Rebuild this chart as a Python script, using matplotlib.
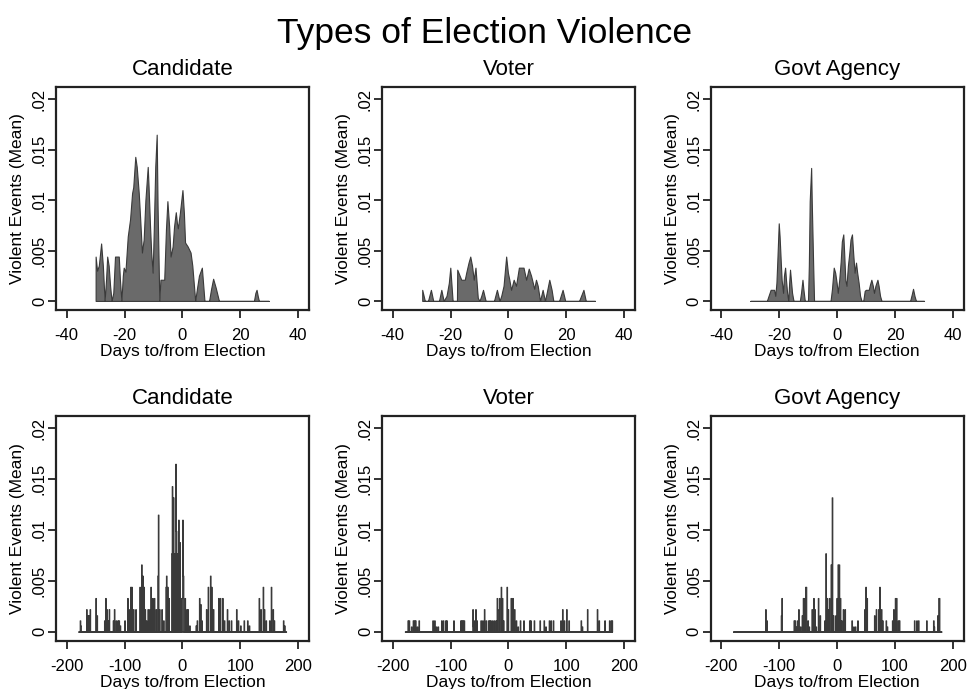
import numpy as np
import matplotlib
matplotlib.use('Agg')
import matplotlib.pyplot as plt
from matplotlib.ticker import FuncFormatter

plt.rcParams['font.family'] = ['Liberation Sans', 'DejaVu Sans']
plt.rcParams['axes.unicode_minus'] = False

TITLES = ['Candidate', 'Voter', 'Govt Agency']

# top row: +/-30 days, outline vertices (day, mean)
cand_top_days = [-30.0, -30.0, -29.5, -28.9, -28.1, -27.5, -26.9, -26.4, -26.0, -25.5, -25.0, -24.5,
                 -23.9, -23.3, -22.0, -21.6, -21.1, -20.6, -20.3, -19.7, -18.9, -18.1, -17.4, -17.0,
                 -16.3, -15.8, -15.1, -14.6, -14.0, -13.4, -12.8, -12.0, -11.7, -11.2, -10.8, -10.3,
                 -9.9, -9.4, -8.9, -8.6, -8.3, -8.0, -7.6, -6.3, -5.7, -5.2, -4.6, -4.1, -3.4, -2.9,
                 -2.3, -1.9, -1.6, -0.9, 0.0, 0.5, 0.9, 1.8, 2.8, 3.4, 4.4, 5.0, 5.7, 6.7, 7.6, 9.2,
                 9.9, 10.6, 11.5, 12.6, 24.7, 25.2, 25.6, 26.0, 26.4, 29.8]
cand_top_vals = [0, .0044, .0030, .0035, .0057, .0035, 0, .0021, .0044, .0035, .0015, 0,
                 .0008, .0044, .0044, .0021, 0, .0025, .0033, .0029, .0064, .0081, .0107, .0113,
                 .0143, .0133, .0107, .0081, .0048, .0061, .0100, .0133, .0113, .0074, .0048, .0028,
                 .0071, .0133, .0165, .0094, .0048, 0, .0021, .0021, .0071, .0099, .0074, .0044, .0054, .0074,
                 .0088, .0077, .0072, .0087, .0110, .0087, .0058, .0054, .0048, .0035, 0, .0012, .0025, .0033, 0, 0,
                 .0012, .0022, .0013, 0, 0, .0008, .0011, .0005, 0, 0]

voter_top_days = [-29.8, -29.8, -28.9, -27.8, -26.8, -26.0, -24.0, -23.2, -22.4, -21.4, -20.6, -20.1,
                  -19.3, -17.8, -17.7, -16.3, -15.1, -14.6, -13.8, -13.2, -12.6, -12.0, -11.4, -10.6,
                  -10.0, -9.4, -8.8, -7.9, -5.0, -4.0, -3.1, -2.5, -1.7, -0.8, -0.2, 0.3, 0.9, 1.8,
                  2.6, 3.6, 5.2, 6.1, 7.0, 7.8, 8.4, 8.9, 9.5, 10.1, 10.9, 11.8, 12.6, 13.2, 14.1,
                  14.9, 15.5, 17.5, 18.7, 19.6, 24.4, 25.9, 26.7, 29.9]
voter_top_vals = [0, .0011, 0, 0, .0011, 0, 0, .0011, 0, .0005, .0018, .0033,
                  0, 0, .0031, .0021, .0021, .0028, .0038, .0044, .0035, .0021, .0033, .0003,
                  0, .0005, .0011, 0, 0, .0011, 0, .0005, .0015, .0044, .0028, .0021, .0011, .0021,
                  .0015, .0033, .0033, .0021, .0032, .0025, .0018, .0012, .0021, .0015, 0, .0011, 0, .0008, .0021,
                  .0011, 0, 0, .0011, 0, 0, .0011, 0, 0]

govt_top_days = [-30.0, -24.3, -23.6, -23.0, -21.8, -21.4, -21.0, -20.7, -20.2, -19.9, -19.5, -19.2,
                 -18.7, -18.4, -18.0, -17.7, -17.3, -16.9, -16.6, -16.3, -16.0, -15.6, -15.1, -12.9,
                 -12.5, -12.0, -11.7, -11.2, -10.1, -9.8, -9.5, -9.0, -8.8, -8.3, -8.0, -2.3, -1.8,
                 -1.2, -0.7, -0.2, 0.2, 0.7, 1.2, 1.6, 2.1, 2.4, 2.8, 3.2, 3.7, 4.2, 4.6, 5.1, 5.5,
                 6.0, 6.5, 6.9, 7.4, 7.9, 8.4, 9.0, 9.5, 9.9, 10.9, 11.3, 11.8, 12.3, 12.7, 13.2,
                 13.9, 14.3, 14.8, 15.3, 25.2, 25.8, 26.2, 26.7, 27.2, 30.0]
govt_top_vals = [0, 0, .0006, .0011, .0011, .0005, .0018, .0039, .0077, .0064, .0039, .0021,
                 .0008, .0025, .0033, .0021, .0008, 0, .0018, .0031, .0021, .0008, 0, 0,
                 .0008, .0021, .0012, 0, 0, .0035, .0099, .0132, .0099, .0035, 0, 0, .0012,
                 .0033, .0028, .0018, .0008, .0021, .0039, .0059, .0066, .0048, .0021, .0015, .0035, .0048, .0061, .0066, .0048,
                 .0028, .0038, .0028, .0018, .0005, 0, 0, .0010, .0011, .0011, .0016, .0021, .0015, .0008, .0015,
                 .0021, .0015, .0005, 0, 0, .0007, .0012, .0005, 0, 0]

# bottom row: +/-180 days, daily means (days not listed are 0)
cand_range = (-180, 179)
cand_days = [-177, -176, -166, -164, -162, -160, -150, -148, -135, -133, -131, -129, -127,
             -120, -118, -115, -112, -110, -108, -100, -95, -93, -90, -88, -85, -81,
             -74, -71, -69, -67, -65, -63, -60, -57, -55, -52, -49, -46, -43, -42, -40,
             -36, -33, -29, -28, -26, -24, -19, -18, -16, -14, -12, -11, -9, -7, -5, -3, -1,
             0, 1, 4, 7, 9, 12, 23, 25, 29, 31, 33, 41, 44, 48, 50, 53, 62, 65, 69, 72,
             77, 80, 84, 93, 96, 100, 106, 112, 115, 132, 135, 139, 141, 144, 150, 153, 156, 158,
             174, 176]
cand_vals = [.0011, .0006, .0022, .0016, .0016, .0022, .0033, .0016, .0011, .0033, .0022, .0011, .0022,
             .0011, .0022, .0011, .0011, .0011, .0006, .0011, .0033, .0022, .0044, .0044, .0022, .0022,
             .0044, .0066, .0055, .0044, .0022, .0011, .0022, .0022, .0044, .0033, .0033, .0022, .0055, .0115, .0022,
             .0022, .0011, .0044, .0055, .0044, .0033, .0077, .0143, .0132, .0077, .0165, .0099, .0077, .0110, .0088, .0033, .0033,
             .0110, .0055, .0033, .0022, .0022, .0006, .0006, .0011, .0033, .0027, .0011, .0022, .0044, .0055, .0044, .0022,
             .0033, .0033, .0033, .0011, .0022, .0011, .0011, .0022, .0011, .0006, .0011, .0011, .0006,
             .0033, .0022, .0044, .0022, .0011, .0011, .0044, .0022, .0011, .0011, .0006]

voter_range = (-179, 179)
voter_days = [-174, -172, -168, -165, -163, -161, -158, -155, -131, -128, -125, -122, -116, -113,
              -109, -107, -95, -83, -81, -79, -77, -62, -61, -59, -57, -55, -48, -45, -42, -39,
              -35, -33, -31, -28, -25, -22, -20, -19, -16, -13, -11, -9, -3, -1, 4, 7, 10, 13, 16,
              20, 26, 36, 38, 44, 54, 61, 64, 70, 73, 77, 90, 93, 96, 100, 104, 125, 127, 136,
              153, 156, 166, 174, 177, 179]
voter_vals = [.0011, .0011, .0005, .0011, .0011, .0011, .0005, .0011, .0011, .0011, .0005, .0005, .0011, .0011,
              .0011, .0011, .0011, .0011, .0011, .0011, .0011, .0022, .0005, .0011, .0022, .0011, .0011, .0011, .0022, .0011,
              .0011, .0011, .0011, .0011, .0011, .0011, .0033, .0022, .0033, .0044, .0033, .0011, .0044, .0022, .0033, .0033, .0022, .0011, .0005,
              .0011, .0011, .0011, .0011, .0011, .0011, .0011, .0005, .0011, .0011, .0011, .0011, .0022, .0011, .0022, .0011, .0011, .0005, .0022,
              .0022, .0011, .0011, .0011, .0011, .0011]

govt_range = (-180, 180)
govt_days = [-124, -122, -97, -96, -75, -73, -71, -69, -67, -64, -61, -59, -57, -55, -54, -51, -49,
             -44, -41, -39, -37, -33, -30, -22, -20, -18, -16, -14, -11, -9, -7, -3, -1, 1, 3, 5,
             7, 10, 13, 25, 28, 31, 35, 47, 49, 51, 64, 67, 71, 73, 76, 78, 84, 86, 95, 97, 100,
             102, 105, 107, 133, 137, 140, 154, 166, 167, 173, 175, 176]
govt_vals = [.0022, .0011, .0016, .0033, .0011, .0011, .0005, .0011, .0022, .0005, .0016, .0033, .0033, .0044, .0044, .0011, .0005,
             .0022, .0033, .0022, .0005, .0033, .0016, .0011, .0077, .0033, .0022, .0033, .0066, .0132, .0016, .0016, .0033, .0066, .0066, .0033,
             .0011, .0022, .0022, .0011, .0005, .0005, .0011, .0022, .0044, .0033, .0016, .0022, .0022, .0044, .0022, .0011, .0011, .0005, .0011, .0022, .0033,
             .0033, .0011, .0011, .0011, .0011, .0011, .0011, .0011, .0005, .0016, .0033, .0033]

FILL = '#6a6a6a'
EDGE = '#3a3a3a'


def daily(rng, days, vals):
    x = np.arange(rng[0], rng[1] + 1)
    y = np.zeros(len(x))
    for d, v in zip(days, vals):
        y[d - rng[0]] = v
    return x, y


def style(ax, title, xticks, xlim):
    ax.set_title(title, fontsize=16, pad=9)
    ax.set_xlim(xlim)
    ax.set_ylim(-0.0009, 0.0212)
    ax.set_xticks(xticks)
    ax.set_yticks([0, .005, .01, .015, .02])
    ax.yaxis.set_major_formatter(FuncFormatter(lambda v, p: '0' if v == 0 else ('%g' % v).lstrip('0')))
    ax.tick_params(axis='both', labelsize=12, length=6, width=1.3, color='#222222')
    ax.tick_params(axis='x', pad=7)
    ax.tick_params(axis='y', pad=0.5)
    for lab in ax.get_yticklabels():
        lab.set_rotation(90)
        lab.set_va('center')
    for s in ax.spines.values():
        s.set_linewidth(1.6)
        s.set_color('#222222')
    ax.set_xlabel('Days to/from Election', fontsize=12.5, labelpad=1)
    ax.set_ylabel('Violent Events (Mean)', fontsize=12.5, labelpad=5)


def main():
    fig = plt.figure(figsize=(9.7, 6.89), dpi=100)
    fig.suptitle('Types of Election Violence', fontsize=25.5, y=0.975)

    lefts = [0.0577, 0.3938, 0.7327]
    top_data = [(cand_top_days, cand_top_vals), (voter_top_days, voter_top_vals), (govt_top_days, govt_top_vals)]
    bot_data = [(cand_range, cand_days, cand_vals), (voter_range, voter_days, voter_vals),
                (govt_range, govt_days, govt_vals)]

    for i in range(3):
        ax = fig.add_axes([lefts[i], 0.5501, 0.2608, 0.3232])
        x, y = top_data[i]
        ax.fill_between(x, y, 0, facecolor=FILL, edgecolor=EDGE, linewidth=0.8)
        style(ax, TITLES[i], [-40, -20, 0, 20, 40], (-43.7, 43.7))

        ax = fig.add_axes([lefts[i], 0.0701, 0.2608, 0.3261])
        x, y = daily(*bot_data[i])
        ax.fill_between(x, y, 0, step='mid', facecolor=FILL, edgecolor=EDGE, linewidth=0.8)
        style(ax, TITLES[i], [-200, -100, 0, 100, 200], (-218.5, 218.5))

    fig.savefig('out.png', dpi=100)


if __name__ == '__main__':
    main()
